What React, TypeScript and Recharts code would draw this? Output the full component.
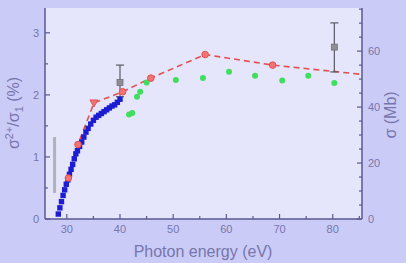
import { ComposedChart, Line, Scatter, XAxis, YAxis, CartesianGrid, ErrorBar } from 'recharts';

// blue: ratio near threshold (dense points)
const blueEnergy = [28.4, 28.7, 29.0, 29.3, 29.6, 29.9, 30.2, 30.5, 30.8, 31.1, 31.4, 31.7, 32.0, 32.4, 32.8, 33.2, 33.6, 34.0, 34.5, 35.0, 35.5, 36.0, 36.5, 37.0, 37.5, 38.0, 38.5, 39.0, 39.5, 40.0];
const blueRatio = [0.08, 0.18, 0.28, 0.38, 0.47, 0.56, 0.63, 0.72, 0.8, 0.88, 0.97, 1.05, 1.1, 1.17, 1.24, 1.32, 1.4, 1.46, 1.53, 1.59, 1.64, 1.67, 1.7, 1.73, 1.76, 1.79, 1.82, 1.84, 1.88, 1.93];

// red: dashed curve with markers (last point only carries the line to the edge)
const redEnergy = [30.3, 32.1, 35.1, 40.5, 45.8, 56.0, 68.7, 85.5];
const redRatio = [0.66, 1.2, 1.87, 2.05, 2.27, 2.65, 2.48, 2.33];

// green: cross section in Mb (right axis)
const greenEnergy = [41.7, 42.3, 43.2, 43.8, 45.0, 50.5, 55.6, 60.5, 65.4, 70.5, 75.4, 80.3];
const greenSigma = [37.3, 37.9, 43.7, 45.5, 48.8, 49.7, 50.4, 52.6, 51.2, 49.5, 51.2, 48.6];

// gray squares with asymmetric error bars
const grayEnergy = [40.0, 80.3];
const grayRatio = [2.2, 2.77];
const grayErrLow = [0.23, 0.4];
const grayErrHigh = [0.28, 0.39];

// gray bar near threshold
const barEnergy = [27.7];
const barRatio = [0.87];
const barErr = [0.45];

const xTicks = [30, 35, 40, 45, 50, 55, 60, 65, 70, 75, 80, 85];
const leftTicks = [0, 0.5, 1, 1.5, 2, 2.5, 3];
const rightTicks = [0, 5, 10, 15, 20, 25, 30, 35, 40, 45, 50, 55, 60, 65, 70, 75];

const blueData = blueEnergy.map((e, i) => ({ e, v: blueRatio[i] }));
const redData = redEnergy.map((e, i) => ({ e, v: redRatio[i] }));
const greenData = greenEnergy.map((e, i) => ({ e, v: greenSigma[i] }));
const grayData = grayEnergy.map((e, i) => ({ e, v: grayRatio[i], err: [grayErrLow[i], grayErrHigh[i]] }));
const barData = barEnergy.map((e, i) => ({ e, v: barRatio[i], err: barErr[i] }));

const AX = '#5a5a92';
const LBL = '#7676ac';
const FONT = '"Liberation Sans", Arial, sans-serif';

const BottomTick = ({ x, y, payload }: any) => {
  const major = payload.value % 10 === 0;
  return (
    <g>
      <line x1={x} x2={x} y1={y} y2={y - (major ? 5 : 3)} stroke={AX} strokeWidth={1.2} />
      {major && (
        <text x={x} y={y + 14} textAnchor="middle" fontSize={11} fill={LBL} fontFamily={FONT}>
          {payload.value}
        </text>
      )}
    </g>
  );
};

const TopTick = ({ x, y, payload }: any) => {
  const major = payload.value % 10 === 0;
  return <line x1={x} x2={x} y1={y} y2={y + (major ? 5 : 3)} stroke={AX} strokeWidth={1.2} />;
};

const LeftTick = ({ x, y, payload }: any) => {
  const major = Number.isInteger(payload.value);
  return (
    <g>
      <line x1={x} x2={x + (major ? 5 : 3)} y1={y} y2={y} stroke={AX} strokeWidth={1.2} />
      {major && (
        <text x={x - 6} y={y + 4} textAnchor="end" fontSize={11} fill={LBL} fontFamily={FONT}>
          {payload.value}
        </text>
      )}
    </g>
  );
};

const RightTick = ({ x, y, payload }: any) => {
  const major = payload.value % 20 === 0;
  return (
    <g>
      <line x1={x} x2={x - (major ? 5 : 3)} y1={y} y2={y} stroke={AX} strokeWidth={1.2} />
      {major && (
        <text x={x + 6} y={y + 4} textAnchor="start" fontSize={11} fill={LBL} fontFamily={FONT}>
          {payload.value}
        </text>
      )}
    </g>
  );
};

const BlueDot = ({ cx, cy }: any) => <rect x={cx - 2.7} y={cy - 2.7} width={5.4} height={5.4} fill="#1c1cd2" />;
const GreenDot = ({ cx, cy }: any) => <circle cx={cx} cy={cy} r={3} fill="#40de5e" />;
const GrayDot = ({ cx, cy }: any) => <rect x={cx - 3} y={cy - 3} width={6} height={6} fill="#8e8e94" stroke="#707078" strokeWidth={0.8} />;
const NoDot = () => <g />;
const RedDot = ({ cx, cy, index }: any) => {
  if (index === redEnergy.length - 1) return <g key={index} />;
  if (index === 2)
    return <path key={index} d={`M${cx - 4},${cy - 3} L${cx + 4},${cy - 3} L${cx},${cy + 4} Z`} fill="#f07474" stroke="#e25050" strokeWidth={1} />;
  return <circle key={index} cx={cx} cy={cy} r={3.3} fill="#f27474" stroke="#e25050" strokeWidth={1} />;
};

export default function App() {
  return (
    <div style={{ position: 'absolute', left: 0, top: 0, width: 406, height: 263, background: '#cbcbf7' }}>
      <ComposedChart width={406} height={263} margin={{ top: 8, right: 0, bottom: 0, left: 0 }}>
        <CartesianGrid horizontal={false} vertical={false} fill="#e5e5fb" stroke="none" />
        <XAxis
          dataKey="e"
          type="number"
          domain={[25.9, 85.5]}
          ticks={xTicks}
          interval={0}
          height={44}
          tickSize={0}
          tickMargin={0}
          tickLine={false}
          axisLine={{ stroke: AX, strokeWidth: 1.5 }}
          tick={<BottomTick />}
          allowDataOverflow
          label={{
            content: () => (
              <text x={203} y={257} textAnchor="middle" fontSize={16} fill={LBL} fontFamily={FONT}>
                Photon energy (eV)
              </text>
            ),
          }}
        />
        <XAxis
          xAxisId="top"
          orientation="top"
          dataKey="e"
          type="number"
          domain={[25.9, 85.5]}
          ticks={xTicks}
          interval={0}
          height={0}
          tickSize={0}
          tickMargin={0}
          tickLine={false}
          axisLine={{ stroke: AX, strokeWidth: 1.5 }}
          tick={<TopTick />}
          allowDataOverflow
        />
        <YAxis
          yAxisId="left"
          type="number"
          domain={[0, 3.4]}
          ticks={leftTicks}
          interval={0}
          width={45}
          tickSize={0}
          tickMargin={0}
          tickLine={false}
          axisLine={{ stroke: AX, strokeWidth: 1.5 }}
          tick={<LeftTick />}
          allowDataOverflow
          label={{
            content: () => (
              <text x={0} y={0} transform="translate(19,113) rotate(-90)" textAnchor="middle" fontSize={16} fill={LBL} fontFamily={FONT}>
                σ<tspan dy={-6} fontSize={11}>2+</tspan>
                <tspan dy={6}>/σ</tspan>
                <tspan dy={4} fontSize={11}>1</tspan>
                <tspan dy={-4}> (%)</tspan>
              </text>
            ),
          }}
        />
        <YAxis
          yAxisId="right"
          orientation="right"
          type="number"
          domain={[0, 75.4]}
          ticks={rightTicks}
          interval={0}
          width={44}
          tickSize={0}
          tickMargin={0}
          tickLine={false}
          axisLine={{ stroke: AX, strokeWidth: 1.5 }}
          tick={<RightTick />}
          allowDataOverflow
          label={{
            content: () => (
              <text x={0} y={0} transform="translate(396,115) rotate(-90)" textAnchor="middle" fontSize={16} fill={LBL} fontFamily={FONT}>
                σ (Mb)
              </text>
            ),
          }}
        />
        <Scatter yAxisId="left" data={barData} dataKey="v" shape={<NoDot />} isAnimationActive={false}>
          <ErrorBar dataKey="err" direction="y" width={0} stroke="#b2b2bc" strokeWidth={3} isAnimationActive={false} />
        </Scatter>
        <Scatter yAxisId="right" data={greenData} dataKey="v" shape={<GreenDot />} isAnimationActive={false} />
        <Scatter yAxisId="left" data={blueData} dataKey="v" shape={<BlueDot />} isAnimationActive={false} />
        <Line
          yAxisId="left"
          data={redData}
          dataKey="v"
          type="linear"
          stroke="#e25050"
          strokeWidth={1.6}
          strokeDasharray="6 4"
          dot={RedDot}
          activeDot={false}
          isAnimationActive={false}
        />
        <Scatter yAxisId="left" data={grayData} dataKey="v" shape={<GrayDot />} isAnimationActive={false}>
          <ErrorBar dataKey="err" direction="y" width={4} stroke="#5a5a66" strokeWidth={1.2} isAnimationActive={false} />
        </Scatter>
      </ComposedChart>
    </div>
  );
}
